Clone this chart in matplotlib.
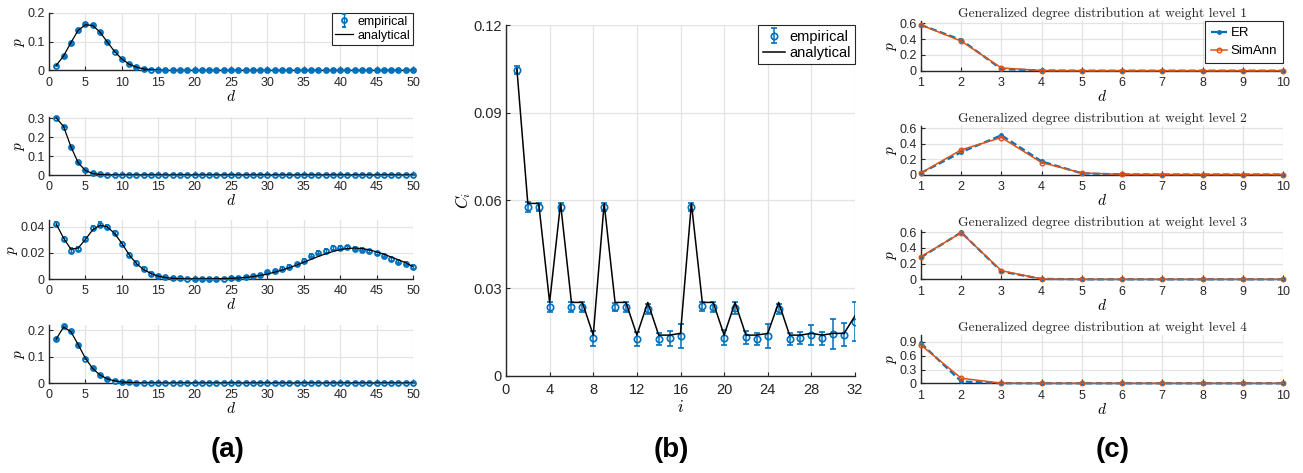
import numpy as np
import matplotlib
matplotlib.use("Agg")
import matplotlib.pyplot as plt
from matplotlib.ticker import FormatStrFormatter

plt.rcParams['font.family'] = ['Liberation Sans', 'DejaVu Sans']
plt.rcParams['mathtext.fontset'] = 'cm'

BLUE = '#0072BD'
ORANGE = '#D95319'
DARK = '#262626'
GRID = '#e3e3e3'

# ---------------- panel (a) data ----------------
d_a = np.arange(1, 51)

a1_emp = [0.017, 0.049, 0.095, 0.140, 0.161, 0.157, 0.132, 0.098, 0.065, 0.039,
          0.022, 0.0116, 0.006, 0.0025, 0.001] + [0.0] * 35
a1_err = [0.002] * 15 + [0.0005] * 35
a1_ana = [0.018, 0.050, 0.096, 0.139, 0.158, 0.156, 0.133, 0.099, 0.066, 0.040,
          0.022, 0.0115, 0.0055, 0.0024, 0.001] + [0.0] * 35

a2_emp = [0.302, 0.254, 0.146, 0.067, 0.025, 0.009, 0.003, 0.001] + [0.0] * 42
a2_err = [0.003] * 8 + [0.0005] * 42
a2_ana = [0.300, 0.256, 0.150, 0.065, 0.024, 0.008, 0.0025, 0.0008] + [0.0] * 42

a3_emp = [0.0420, 0.0303, 0.0217, 0.0230, 0.0306, 0.0387, 0.0415, 0.0395, 0.0350, 0.0270,
          0.0183, 0.0120, 0.0074, 0.0040, 0.0023, 0.0013, 0.0007, 0.0004, 0.0003, 0.0002,
          0.0002, 0.0002, 0.0002, 0.0003, 0.0005, 0.0010, 0.0015, 0.0022, 0.0032, 0.0050,
          0.0064, 0.0080, 0.0095, 0.0112, 0.0138, 0.0176, 0.0200, 0.0214, 0.0236, 0.0238,
          0.0242, 0.0232, 0.0222, 0.0210, 0.0196, 0.0176, 0.0153, 0.0132, 0.0118, 0.0092]
a3_err = [0.0016] * 14 + [0.0006] * 13 + [0.0008] * 5 + [0.0012] * 18
a3_ana = [0.0418, 0.0312, 0.0228, 0.0236, 0.0302, 0.0375, 0.0410, 0.0398, 0.0348, 0.0272,
          0.0186, 0.0118, 0.0072, 0.0042, 0.0022, 0.0011, 0.0005, 0.0002, 0.0001, 0.0001,
          0.0001, 0.0001, 0.0002, 0.0003, 0.0005, 0.0008, 0.0012, 0.0018, 0.0027, 0.0038,
          0.0052, 0.0068, 0.0086, 0.0106, 0.0128, 0.0150, 0.0172, 0.0192, 0.0210, 0.0224,
          0.0233, 0.0236, 0.0232, 0.0222, 0.0207, 0.0189, 0.0168, 0.0146, 0.0124, 0.0094]

a4_emp = [0.1675, 0.215, 0.196, 0.145, 0.0925, 0.056, 0.031, 0.016, 0.009, 0.005,
          0.002, 0.001] + [0.0] * 38
a4_err = [0.003] * 12 + [0.0005] * 38
a4_ana = [0.167, 0.212, 0.195, 0.146, 0.094, 0.055, 0.030, 0.016, 0.008, 0.004,
          0.002, 0.001] + [0.0] * 38

a_emp = [a1_emp, a2_emp, a3_emp, a4_emp]
a_err = [a1_err, a2_err, a3_err, a4_err]
a_ana = [a1_ana, a2_ana, a3_ana, a4_ana]
a_ylim = [0.2, 0.303, 0.045, 0.22]
a_yticks = [[0, 0.1, 0.2], [0, 0.1, 0.2, 0.3], [0, 0.02, 0.04], [0, 0.1, 0.2]]

# ---------------- panel (b) data ----------------
i_b = np.arange(1, 33)
b_emp = [0.1047, 0.0578, 0.0578, 0.0235, 0.0578, 0.0235, 0.0235, 0.0128,
         0.0578, 0.0235, 0.0235, 0.0126, 0.0228, 0.0126, 0.0128, 0.0136,
         0.0578, 0.0237, 0.0234, 0.0130, 0.0231, 0.0132, 0.0126, 0.0136,
         0.0229, 0.0126, 0.0128, 0.0140, 0.0128, 0.0143, 0.0140, 0.0185]
b_err = [0.0015, 0.0018, 0.0015, 0.0017, 0.0015, 0.0017, 0.0017, 0.0025,
         0.0015, 0.0015, 0.0017, 0.0025, 0.0017, 0.0020, 0.0025, 0.0040,
         0.0015, 0.0017, 0.0017, 0.0025, 0.0020, 0.0022, 0.0020, 0.0040,
         0.0017, 0.0020, 0.0020, 0.0035, 0.0022, 0.0050, 0.0040, 0.0066]
b_ana = [0.1050, 0.0590, 0.0590, 0.0251, 0.0590, 0.0251, 0.0251, 0.0139,
         0.0590, 0.0251, 0.0251, 0.0139, 0.0251, 0.0139, 0.0139, 0.0145,
         0.0590, 0.0251, 0.0251, 0.0139, 0.0251, 0.0139, 0.0139, 0.0145,
         0.0251, 0.0139, 0.0139, 0.0145, 0.0139, 0.0145, 0.0145, 0.0205]

# ---------------- panel (c) data ----------------
d_c = np.arange(1, 11)
c_er = [[0.58, 0.39, 0.02, 0.003, 0, 0, 0, 0, 0, 0],
        [0.02, 0.29, 0.51, 0.17, 0.015, 0.001, 0, 0, 0, 0],
        [0.28, 0.60, 0.10, 0.005, 0, 0, 0, 0, 0, 0],
        [0.87, 0.04, 0.002, 0, 0, 0, 0, 0, 0, 0]]
c_sa = [[0.58, 0.375, 0.035, 0.002, 0, 0, 0, 0, 0, 0],
        [0.02, 0.32, 0.48, 0.155, 0.02, 0.002, 0, 0, 0, 0],
        [0.29, 0.595, 0.11, 0.004, 0, 0, 0, 0, 0, 0],
        [0.83, 0.11, 0.003, 0, 0, 0, 0, 0, 0, 0]]
c_ylim = [0.63, 0.63, 0.63, 1.05]
c_yticks = [[0, 0.2, 0.4, 0.6]] * 3 + [[0, 0.3, 0.6, 0.9]]

W, H = 1303, 473
fig = plt.figure(figsize=(W / 100, H / 100), dpi=100)


def px_axes(left, right, top, bottom):
    return fig.add_axes([left / W, 1 - bottom / H, (right - left) / W, (bottom - top) / H])


def style(ax, size, xpad, ypad):
    for s in ['top', 'right']:
        ax.spines[s].set_visible(False)
    for s in ['left', 'bottom']:
        ax.spines[s].set_color(DARK)
        ax.spines[s].set_linewidth(1.0)
    ax.tick_params(direction='in', length=3, width=0.8, color=DARK,
                   labelcolor=DARK, labelsize=size)
    ax.tick_params(axis='x', pad=xpad)
    ax.tick_params(axis='y', pad=ypad)
    ax.grid(True, color=GRID, lw=0.9)
    ax.set_axisbelow(True)
    ax.yaxis.set_major_formatter(FormatStrFormatter('%g'))


def add_legend(ax, order, **kw):
    h, l = ax.get_legend_handles_labels()
    h = [h[l.index(o)] for o in order]
    leg = ax.legend(h, order, loc='upper right', borderaxespad=0, fancybox=False,
                    framealpha=1, edgecolor=DARK, **kw)
    leg.get_frame().set_linewidth(0.8)
    return leg


# panel (a)
a_tops = [12.7, 117.5, 220, 325]
a_bots = [70.5, 175, 279, 383]
for k in range(4):
    ax = px_axes(49, 413, a_tops[k], a_bots[k])
    style(ax, 9, 4.5, 3)
    ax.errorbar(d_a, a_emp[k], yerr=a_err[k], fmt='o', color=BLUE, ms=3.6,
                mew=1.3, mfc='none', capsize=1.3, elinewidth=1.0, zorder=3,
                label='empirical', clip_on=False)
    ax.plot(d_a, a_ana[k], color='black', lw=0.9, zorder=4, label='analytical')
    ax.set_xlim(0, 50)
    ax.set_ylim(0, a_ylim[k])
    ax.set_xticks(np.arange(0, 51, 5))
    ax.set_yticks(a_yticks[k])
    ax.set_xlabel(r'$d$', fontsize=11, labelpad=0)
    ax.set_ylabel(r'$p$', fontsize=11, labelpad=0)
    if k == 0:
        add_legend(ax, ['empirical', 'analytical'], fontsize=9,
                   handlelength=1.5, handletextpad=0.3, borderpad=0.25,
                   labelspacing=0.15)

# panel (b)
ax = px_axes(506, 855, 25.3, 375.7)
style(ax, 10.5, 5.5, 3)
ax.errorbar(i_b, b_emp, yerr=b_err, fmt='o', color=BLUE, ms=4.6, mew=1.2,
            mfc='none', capsize=2.2, elinewidth=1.1, zorder=3, label='empirical')
ax.plot(i_b, b_ana, color='black', lw=1.1, zorder=4, label='analytical')
ax.set_xlim(0, 32)
ax.set_ylim(0, 0.12)
ax.set_xticks(np.arange(0, 33, 4))
ax.set_yticks([0, 0.03, 0.06, 0.09, 0.12])
ax.set_xlabel(r'$i$', fontsize=12, labelpad=1)
ax.set_ylabel(r'$C_i$', fontsize=12, labelpad=0)
add_legend(ax, ['empirical', 'analytical'], fontsize=10.5,
           handlelength=1.5, handletextpad=0.3, borderpad=0.3,
           labelspacing=0.15)

# panel (c)
c_tops = [21, 126, 230, 335]
c_bots = [70.7, 174.5, 279.3, 383.3]
for k in range(4):
    ax = px_axes(921, 1283, c_tops[k], c_bots[k])
    style(ax, 9, 4.5, 3)
    ax.plot(d_c, c_er[k], '--', marker='.', color=BLUE, lw=1.6, ms=5,
            dashes=(3, 1.5), label='ER', zorder=3, clip_on=False)
    ax.plot(d_c, c_sa[k], '-', marker='o', color=ORANGE, lw=1.1, ms=3.3,
            mfc='none', mew=1.0, label='SimAnn', zorder=4, clip_on=False)
    ax.set_xlim(1, 10)
    ax.set_ylim(0, c_ylim[k])
    ax.set_xticks(d_c)
    ax.set_yticks(c_yticks[k])
    ax.set_xlabel(r'$d$', fontsize=11, labelpad=0)
    ax.set_ylabel(r'$p$', fontsize=11, labelpad=0)
    ax.set_title('Generalized degree distribution at weight level %d' % (k + 1),
                 family='cmr10', fontsize=9.8, pad=3, color=DARK)
    if k == 0:
        add_legend(ax, ['ER', 'SimAnn'], fontsize=9.5,
                   handlelength=1.2, handletextpad=0.3, borderpad=0.45,
                   labelspacing=0.45)

# panel letters
for x, lab in [(228, '(a)'), (671, '(b)'), (1113, '(c)')]:
    fig.text(x / W, 1 - 450 / H, lab, ha='center', va='center',
             fontsize=20, fontweight='bold')

fig.savefig('out.png', dpi=100)
